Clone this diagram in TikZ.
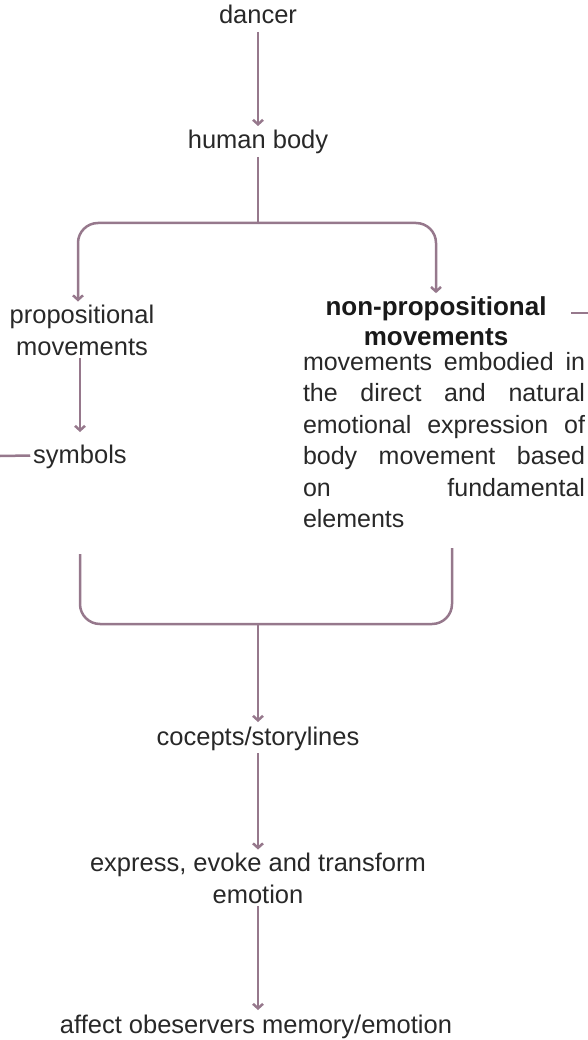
\documentclass[tikz,border=0pt]{standalone}
\usepackage{fontspec}
\setmainfont{Liberation Sans}
\usepackage{tikz}
\usetikzlibrary{arrows.meta, positioning}
\definecolor{linkmauve}{RGB}{150,120,140}
\definecolor{textgray}{RGB}{40,40,40}

\begin{document}
\begin{tikzpicture}[x=1pt, y=-1pt,
	txt/.style={inner sep=0pt, outer sep=3pt, text=textgray, align=center, anchor=base,
		font=\fontsize{25.5}{32}\selectfont},
	word/.style={txt, text height=20pt, text depth=5pt},
	link/.style={draw=linkmauve, line width=2.5pt},
	arr/.style={link, -{Straight Barb[length=4.5pt, width=10pt]}}]
	\useasboundingbox (0,0) rectangle (588,1040);
	% nodes (two-line ones sit on their last baseline)
	\node[word] (dancer) at (258,24) {dancer};
	\node[word] (body) at (258,149) {human body};
	\node[txt] (prop) at (82,355) {propositional\\movements};
	\node[word] (symb) at (80,463) {symbols};
	\node[txt, text=black!90, font=\fontsize{26}{30}\selectfont\bfseries] (nprop) at (436,345) {non-propositional\\movements};
	\node[txt, anchor=base west, outer sep=0pt, text width=282pt, align=justify,
		font=\fontsize{25}{31.5}\selectfont] (ndesc) at (303,370)
		{movements embodied in\linebreak the direct and natural\linebreak emotional expression of\linebreak body movement based\linebreak on fundamental\linebreak elements};
	\node[word] (concept) at (258,745) {cocepts/storylines};
	\node[txt] (expr) at (258,903) {express, evoke and transform\\emotion};
	\node[word] (affect) at (256,1033) {affect obeservers memory/emotion};
	% free ends
	\coordinate (split) at (258,223);
	\coordinate (lout) at (0,456);
	\coordinate (rin) at (571,313);
	\coordinate (rout) at (588,313);
	\coordinate (lfoot) at (80,554);
	\coordinate (rfoot) at (452,548);
	\coordinate (join) at (258,624);
	% connectors
	\draw[arr] (dancer) -- (body);
	\draw[link] (body) -- (split);
	\draw[arr, rounded corners=20pt] (split) -| ([xshift=-4pt]prop.north);
	\draw[arr, rounded corners=20pt] (split) -| (nprop.north);
	\draw[arr, shorten >=8pt] (prop.south -| symb) -- (symb.north);
	\draw[link] (lout) -- (symb.west);
	\draw[link] (rin) -- (rout);
	\draw[link, rounded corners=20pt] (lfoot) |- (join -| rfoot) -- (rfoot);
	\draw[arr] (join) -- (concept);
	\draw[arr] (concept) -- (expr);
	\draw[arr] (expr.south) -- (expr.south |- affect.north);
\end{tikzpicture}
\end{document}
